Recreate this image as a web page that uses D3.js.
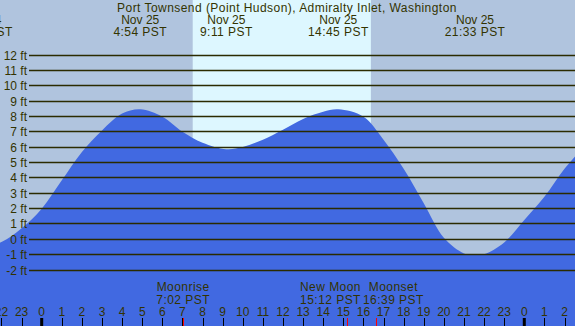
<!DOCTYPE html>
<html>
<head>
<meta charset="utf-8">
<script src="https://cdn.jsdelivr.net/npm/d3@7"></script>
<style>
html,body{margin:0;padding:0;background:#b0c4de;}
svg{display:block;}
text{font-family:"Liberation Sans",Arial,sans-serif;font-size:12px;fill:#333300;}
text.sp{letter-spacing:0.45px;}
</style>
</head>
<body>
<svg id="chart" width="575" height="326"></svg>
<script>
// ---- data ----
const title = "Port Townsend (Point Hudson), Admiralty Inlet, Washington";
// tide curve samples (hours from midnight Nov 25, height in ft)
const curveHours   = [-3, -2, -1, 0, 1, 2, 3, 4, 4.9, 6, 7, 8, 9.18, 10, 11, 12, 13, 14, 14.75, 16, 17, 18, 19, 20, 21, 21.55, 22, 23, 24, 25, 26, 27];
const curveHeights = [-0.5, -0.18, 0.72, 2.0, 3.85, 5.7, 7.1, 8.2, 8.48, 8.0, 7.02, 6.3, 5.88, 6.02, 6.5, 7.15, 7.85, 8.32, 8.48, 8.0, 6.5, 4.6, 2.35, 0.1, -0.92, -1.02, -0.97, -0.2, 1.26, 2.77, 4.6, 6.1];
// tide extremes
const tideHours = [-2.95, 4.9, 9.183, 14.75, 21.55];
const tideDates = ["Nov 24", "Nov 25", "Nov 25", "Nov 25", "Nov 25"];
const tideTimes = ["21:03 PST", "4:54 PST", "9:11 PST", "14:45 PST", "21:33 PST"];
// moon events
const moonNames = ["Moonrise", "New Moon", "Moonset"];
const moonHours = [7.033, 15.2, 16.65];
const moonTimes = ["7:02 PST", "15:12 PST", "16:39 PST"];
// daylight
const sunriseHour = 7.51;
const sunsetHour = 16.37;
// axes
const feetTicks = [-2, -1, 0, 1, 2, 3, 4, 5, 6, 7, 8, 9, 10, 11, 12];
const hourTicks = [-2, -1, 0, 1, 2, 3, 4, 5, 6, 7, 8, 9, 10, 11, 12, 13, 14, 15, 16, 17, 18, 19, 20, 21, 22, 23, 24, 25, 26];
const hourLabels = ["22", "23", "0", "1", "2", "3", "4", "5", "6", "7", "8", "9", "10", "11", "12", "13", "14", "15", "16", "17", "18", "19", "20", "21", "22", "23", "0", "1", "2"];
const midnightHours = [0, 24];

// ---- chart ----
const W = 575, H = 326;
const svg = d3.select("#chart");
const x = d3.scaleLinear().domain([-2.074, 26.522]).range([0, W]);
const y = d3.scaleLinear().domain([-2, 12]).range([270, 55.3]);

// night background
svg.append("rect").attr("x", 0).attr("y", 0).attr("width", W).attr("height", H).attr("fill", "#b0c4de");
// daylight band
svg.append("rect").attr("x", x(sunriseHour)).attr("y", 0)
  .attr("width", x(sunsetHour) - x(sunriseHour)).attr("height", H).attr("fill", "#ddf7ff");

// tide area
const pts = curveHours.map((h, i) => [h, curveHeights[i]]);
const area = d3.area().x(d => x(d[0])).y0(H).y1(d => y(d[1])).curve(d3.curveCatmullRom.alpha(0.5));
svg.append("path").datum(pts).attr("d", area).attr("fill", "#4169e1");

// grid lines + labels
svg.selectAll("line.grid").data(feetTicks).enter().append("line")
  .attr("x1", 29).attr("x2", W)
  .attr("y1", d => Math.floor(y(d)) + 0.5).attr("y2", d => Math.floor(y(d)) + 0.5)
  .attr("stroke", "#2b2b00").attr("stroke-width", 1.3);
svg.selectAll("text.ft").data(feetTicks).enter().append("text")
  .attr("x", 27).attr("y", d => y(d) + 4.5).attr("text-anchor", "end")
  .text(d => d + " ft");

// title
svg.append("text").attr("class", "sp").attr("x", 287).attr("y", 12).attr("text-anchor", "middle").text(title);

// tide labels
tideHours.forEach((h, i) => {
  svg.append("text").attr("x", x(h)).attr("y", 24).attr("text-anchor", "middle").text(tideDates[i]);
  svg.append("text").attr("class", "sp").attr("x", x(h)).attr("y", 36).attr("text-anchor", "middle").text(tideTimes[i]);
});

// hour ticks + labels
svg.selectAll("line.htick").data(hourTicks).enter().append("line")
  .attr("x1", d => Math.round(x(d)) + 0.5).attr("x2", d => Math.round(x(d)) + 0.5)
  .attr("y1", 318).attr("y2", H).attr("stroke", "#000").attr("stroke-width", 1);
svg.selectAll("rect.mid").data(midnightHours).enter().append("rect")
  .attr("x", d => x(d) - 1.5).attr("y", 318).attr("width", 3).attr("height", H - 318).attr("fill", "#000");
svg.selectAll("text.hl").data(hourTicks).enter().append("text")
  .attr("x", d => x(d)).attr("y", 316).attr("text-anchor", "middle")
  .text((d, i) => hourLabels[i]);

// moon ticks
svg.selectAll("line.moon").data(moonHours).enter().append("line")
  .attr("x1", d => Math.round(x(d)) + 0.5).attr("x2", d => Math.round(x(d)) + 0.5)
  .attr("y1", 318).attr("y2", H).attr("stroke", "#ff0000").attr("stroke-width", 1);

// moon labels with simple overlap resolution
const groups = moonHours.map((h, i) => {
  const g = svg.append("g");
  const t1 = g.append("text").attr("class", "sp").attr("y", 291).attr("text-anchor", "middle").text(moonNames[i]);
  const t2 = g.append("text").attr("class", "sp").attr("y", 304).attr("text-anchor", "middle").text(moonTimes[i]);
  const w = Math.max(t1.node().getComputedTextLength(), t2.node().getComputedTextLength());
  return {g, cx: x(h), w};
});
for (let k = 0; k < 5; k++) {
  for (let i = 1; i < groups.length; i++) {
    const a = groups[i - 1], b = groups[i];
    const need = (a.w + b.w) / 2 + 2;
    const d = b.cx - a.cx;
    if (d < need) { const s = (need - d) / 2; a.cx -= s; b.cx += s; }
  }
}
groups.forEach(o => o.g.attr("transform", `translate(${o.cx},0)`));
</script>
</body>
</html>
